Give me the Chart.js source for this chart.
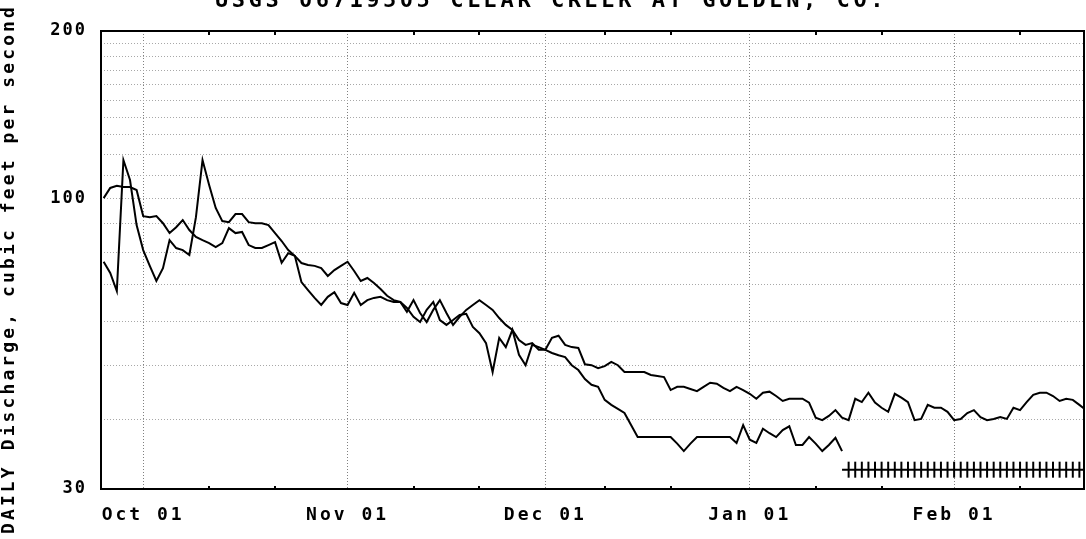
<!DOCTYPE html>
<html>
<head>
<meta charset="utf-8">
<script src="https://cdn.jsdelivr.net/npm/chart.js@4.4.0/dist/chart.umd.min.js"></script>
<style>
  body { margin: 0; background: #fff; }
</style>
</head>
<body>
<canvas id="graph" width="1086" height="539"></canvas>
<script>
const chartTitle = 'USGS 06719505 CLEAR CREEK AT GOLDEN, CO.'
const yTitle = 'DAILY Discharge, cubic feet per second'

// x values are days counted from Oct 01
const monthDays = [0, 31, 61, 92, 123]
const monthLabels = ['Oct 01', 'Nov 01', 'Dec 01', 'Jan 01', 'Feb 01']
const minorDays = [10, 20, 41, 51, 70, 80, 102, 112, 133]
const yGrid = [30, 40, 50, 60, 70, 80, 90, 100, 110, 120, 130, 140, 150, 160, 170, 180, 190, 200]
const yLabels = [30, 100, 200]

// daily discharge, cfs
const upperStart = -6
const upperFlow = [
  100.1, 104.4, 105.3, 104.8, 104.8, 103.5,
  92.9, 92.5, 92.9, 90.2, 86.6, 88.7, 91.4, 87.7, 85.2, 84.1,
  83.1, 81.7, 83.1, 88.4, 86.6, 87.0, 82.4, 81.4, 81.4, 82.4,
  83.4, 76.6, 79.7, 78.8, 70.7, 68.4, 66.2, 64.3, 66.5, 67.8,
  64.8, 64.3, 67.6, 64.3, 65.6, 66.2, 66.5, 65.6, 65.1, 65.1,
  62.5, 65.6, 62.2, 59.9, 63.0, 65.6, 62.2, 59.2, 61.2, 63.0,
  64.3, 65.6, 64.3, 63.0, 60.9, 59.2, 58.0, 55.6, 54.5, 54.9,
  53.4, 53.4, 56.1, 56.6, 54.5, 54.0, 53.8, 50.3, 50.1, 49.5,
  49.9, 50.8, 50.1, 48.7, 48.7, 48.7, 48.7, 48.1, 47.9, 47.7,
  45.2, 45.8, 45.8, 45.4, 45.0, 45.8, 46.6, 46.4, 45.6, 45.0,
  45.8, 45.2, 44.5, 43.6, 44.7, 44.9, 44.1, 43.2, 43.6, 43.6,
  43.6, 42.9, 40.3, 39.9, 40.6, 41.6, 40.3, 39.9, 43.6, 43.0,
  44.7, 42.9, 42.0, 41.3, 44.5, 43.8, 43.0, 39.9, 40.1, 42.5,
  42.0, 42.0, 41.3, 39.9, 40.1, 41.1, 41.6, 40.4, 39.9, 40.1,
  40.4, 40.1, 42.0, 41.6, 43.0, 44.3, 44.7, 44.7, 44.1, 43.2,
  43.6, 43.4, 42.5, 41.6
]

const lowerStart = -6
const lowerFlow = [
  76.9, 73.4, 68.1, 117.2, 107.9, 89.5,
  80.7, 75.6, 71.0, 74.9, 84.1, 81.4, 80.7, 79.1, 92.5, 117.2,
  105.7, 96.1, 91.0, 90.6, 93.7, 93.7, 90.6, 90.2, 90.2, 89.5,
  86.6, 83.8, 80.7, 78.8, 76.5, 75.9, 75.6, 74.9, 72.5, 74.3,
  75.6, 76.9, 74.0, 71.0, 71.9, 70.4, 68.7, 66.8, 65.6, 65.1,
  63.5, 61.2, 59.9, 63.0, 65.1, 60.4, 59.2, 60.4, 61.7, 62.0,
  58.7, 57.2, 54.9, 48.7, 56.1, 54.0, 58.0, 52.3, 50.1, 54.5,
  54.0, 53.4, 52.7, 52.2, 51.8, 50.1, 49.1, 47.3, 46.2, 45.8,
  43.4, 42.5, 41.8, 41.1, 39.1, 37.2, 37.2, 37.2, 37.2, 37.2,
  37.2, 36.2, 35.1, 36.2, 37.2, 37.2, 37.2, 37.2, 37.2, 37.2,
  36.3, 39.1, 36.8, 36.3, 38.5, 37.8, 37.2, 38.3, 38.9, 36.0,
  36.0, 37.2, 36.2, 35.1, 36.0, 37.1, 35.1
]

// ice-affected / estimated days, drawn as a hatched line near the bottom
const estStart = 106
const estFlow = [
  32.5, 32.5, 32.5, 32.5, 32.5, 32.5, 32.5, 32.5, 32.5, 32.5,
  32.5, 32.5, 32.5, 32.5, 32.5, 32.5, 32.5, 32.5, 32.5, 32.5,
  32.5, 32.5, 32.5, 32.5, 32.5, 32.5, 32.5, 32.5, 32.5, 32.5,
  32.5, 32.5, 32.5, 32.5, 32.5, 32.5, 32.5, 32.5
]

function toPoints (start, values) {
  return values.map((v, i) => ({ x: start + i, y: v }))
}

const ink = '#000'
const mono = 'DejaVu Sans Mono'

// draw the tick labels of a scale with extra letter spacing
function spaceLabels (scale, spacing) {
  const draw = scale.drawLabels
  scale.drawLabels = function (area) {
    this.ctx.letterSpacing = spacing
    draw.call(this, area)
    this.ctx.letterSpacing = '0px'
  }
}

function fitText (ctx, text, width) {
  ctx.letterSpacing = '0px'
  const w = ctx.measureText(text).width
  ctx.letterSpacing = ((width - w) / text.length) + 'px'
}

const framePlugin = {
  id: 'frame',
  afterDraw: (chart) => {
    const { ctx, chartArea } = chart
    const x = chart.scales.x
    ctx.save()
    ctx.strokeStyle = ink
    ctx.lineWidth = 2
    ctx.strokeRect(chartArea.left, chartArea.top, chartArea.right - chartArea.left, chartArea.bottom - chartArea.top)

    // small minor ticks inside the top and bottom border
    ctx.beginPath()
    minorDays.forEach(d => {
      const px = Math.round(x.getPixelForValue(d))
      ctx.moveTo(px, chartArea.top)
      ctx.lineTo(px, chartArea.top + 4)
      ctx.moveTo(px, chartArea.bottom)
      ctx.lineTo(px, chartArea.bottom - 3)
    })
    ctx.stroke()

    ctx.fillStyle = ink
    ctx.font = 'bold 22px ' + mono
    ctx.textBaseline = 'alphabetic'
    ctx.textAlign = 'left'
    fitText(ctx, chartTitle, 672)
    ctx.fillText(chartTitle, 215, 7)

    ctx.font = 'bold 18px ' + mono
    fitText(ctx, yTitle, 530)
    ctx.translate(14, 534)
    ctx.rotate(-Math.PI / 2)
    ctx.fillText(yTitle, 0, 0)
    ctx.restore()
  }
}

new Chart('graph', {
  type: 'line',
  data: {
    datasets: [
      {
        data: toPoints(upperStart, upperFlow),
        borderColor: ink,
        borderWidth: 2,
        pointRadius: 0,
        tension: 0
      },
      {
        data: toPoints(lowerStart, lowerFlow),
        borderColor: ink,
        borderWidth: 2,
        pointRadius: 0,
        tension: 0
      },
      {
        data: toPoints(estStart, estFlow),
        borderColor: ink,
        borderWidth: 2,
        pointStyle: 'line',
        rotation: 90,
        pointRadius: (c) => c.dataIndex === 0 ? 0 : 8,
        pointBorderWidth: 2,
        pointBorderColor: ink,
        tension: 0
      }
    ]
  },
  options: {
    responsive: false,
    animation: false,
    events: [],
    layout: { autoPadding: false, padding: { top: 31, right: 2, left: 0, bottom: 0 } },
    plugins: {
      legend: { display: false },
      tooltip: { enabled: false }
    },
    scales: {
      x: {
        type: 'linear',
        min: -6.4,
        max: 142.7,
        afterBuildTicks: (s) => { s.ticks = monthDays.map(v => ({ value: v })) },
        afterFit: (s) => {
          s.height = 50
          s.paddingLeft = 0
          s.paddingRight = 0
          spaceLabels(s, '3px')
        },
        ticks: {
          autoSkip: false,
          maxRotation: 0,
          padding: 16,
          color: ink,
          font: { family: mono, size: 18, weight: 'bold' },
          callback: (v) => monthLabels[monthDays.indexOf(v)]
        },
        grid: { color: '#808080', lineWidth: 1, drawTicks: false },
        border: { display: false, dash: [1, 2] }
      },
      y: {
        type: 'logarithmic',
        min: 30,
        max: 200,
        afterBuildTicks: (s) => { s.ticks = yGrid.map(v => ({ value: v })) },
        afterFit: (s) => {
          s.width = 101
          s.paddingTop = 0
          s.paddingBottom = 0
          spaceLabels(s, '2px')
        },
        ticks: {
          autoSkip: false,
          padding: 14,
          color: ink,
          font: { family: mono, size: 17, weight: 'bold' },
          callback: (v) => yLabels.includes(v) ? String(v) : ''
        },
        grid: { color: '#a8a8a8', lineWidth: 1, drawTicks: false },
        border: { display: false, dash: [1, 2] }
      }
    }
  },
  plugins: [framePlugin]
})
</script>
</body>
</html>
